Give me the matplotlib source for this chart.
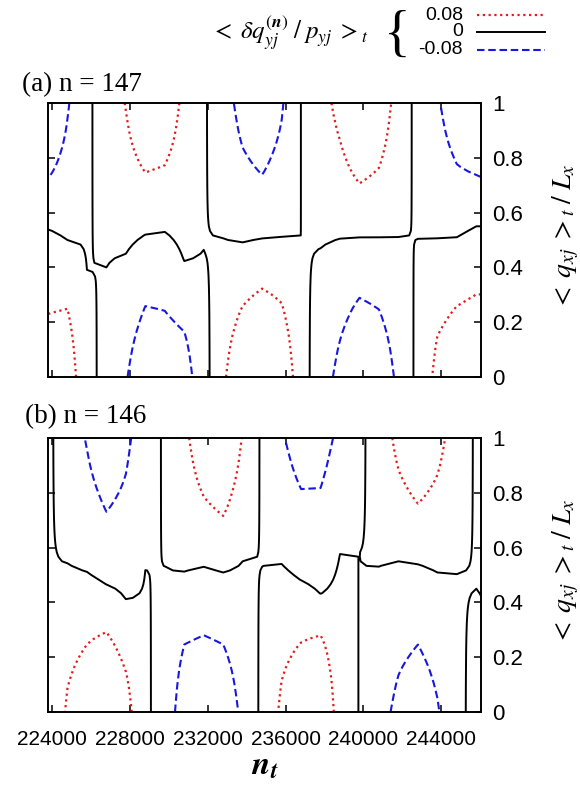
import numpy as np
import matplotlib
matplotlib.use("Agg")
import matplotlib.pyplot as plt
from matplotlib.lines import Line2D

plt.rcParams['mathtext.fontset'] = 'stix'
plt.rcParams['font.family'] = ['Liberation Sans', 'DejaVu Sans']
plt.rcParams['lines.dotted_pattern'] = [1.0, 1.6]
plt.rcParams['lines.dashed_pattern'] = [3.6, 1.8]

# ---------------- data ----------------
# grid columns along n_t
X_COLS = [223800, 224800, 225800, 226800, 227800, 228800, 229800, 230800,
          231800, 232800, 233800, 234800, 235800, 236800, 237800, 238800,
          239800, 240800, 241800, 242800, 243800, 244800, 245800, 246040]

# panel (a) n = 147 : field (x 1/100) at the upper edge, at the lower edge,
# and height of the horizontal zero line, per column
TOP_A = [-16.0, -8.7, -1.45, 3.7, 8.3, 14.0, 13.0, 6.3, 1.0, -5.0, -10.5, -14.0,
         -8.8, 0.1, 5.5, 10.0, 16.0, 13.0, 5.0, -2.35, -7.2, -12.5, -15.5, -16.0]
BOT_A = [12.0, 13.3, 1.25, -1.25, -7.5, -13.3, -12.5, -11.5, -3.0, 7.0, 14.0, 17.5,
         14.0, 3.7, -4.7, -9.9, -15.0, -13.0, -6.5, 1.94, 10.2, 13.5, 14.5, 14.5]
MID_A = [0.54, 0.50, 0.39, 0.40, 0.45, 0.52, 0.53, 0.42, 0.46, 0.505, 0.49, 0.505,
         0.51, 0.505, 0.47, 0.505, 0.51, 0.51, 0.51, 0.505, 0.505, 0.51, 0.55, 0.55]

# panel (b) n = 146
TOP_B = [1.5, -4.0, -8.5, -13.4, -9.5, -4.0, 1.0, 6.5, 12.5, 15.4, 7.6, -1.24,
         -7.4, -11.0, -10.5, -6.6, -1.8, 4.1, 9.8, 13.8, 10.0, 5.0, -1.1, -2.3]
BOT_B = [1.0, 9.0, 13.0, 17.0, 11.0, 1.0, -2.5, -13.0, -14.0, -13.0, -6.5, 1.6,
         9.4, 14.0, 18.0, 3.3, -0.2, -5.5, -9.7, -12.5, -8.6, -2.7, 3.2, 4.5]
MID_B = [0.47, 0.54, 0.51, 0.465, 0.41, 0.52, 0.53, 0.51, 0.53, 0.51, 0.55, 0.53,
         0.54, 0.48, 0.43, 0.58, 0.58, 0.53, 0.55, 0.54, 0.51, 0.505, 0.45, 0.42]

# vertical profile: fraction of edge value vs normalized distance from the zero line
S_PTS = [0.0, 0.1, 0.2, 0.3, 0.4, 0.5, 0.6, 0.7, 0.8, 0.9, 1.0]
W_PTS = [0.0, 0.14, 0.27, 0.39, 0.5, 0.6, 0.69, 0.78, 0.86, 0.93, 1.0]

LEVELS = [-0.08, 0.0, 0.08]
LEVEL_LABELS = ['-0.08', '0', '0.08']
LEVEL_COLORS = ['#1717e0', 'black', '#e41b1b']
LEVEL_STYLES = ['dashed', 'solid', 'dotted']
LEVEL_WIDTHS = [1.5, 1.4, 1.6]

PANEL_TITLES = ['(a) n = 147', '(b) n = 146']
X_TICKS = [224000, 228000, 232000, 236000, 240000, 244000]
X_TICK_LABELS = ['224000', '228000', '232000', '236000', '240000', '244000']
Y_TICKS = [0.0, 0.2, 0.4, 0.6, 0.8, 1.0]
Y_TICK_LABELS = ['0', '0.2', '0.4', '0.6', '0.8', '1']

Y_ROWS = np.linspace(0.0, 1.0, 61)


def build_field(top, bot, mid):
    top = np.asarray(top) / 100.0
    bot = np.asarray(bot) / 100.0
    mid = np.asarray(mid)
    Z = np.empty((len(Y_ROWS), len(top)))
    for i, y in enumerate(Y_ROWS):
        s_up = np.clip((y - mid) / (1 - mid), 0, 1)
        s_lo = np.clip((mid - y) / mid, 0, 1)
        Z[i] = np.where(y >= mid,
                        top * np.interp(s_up, S_PTS, W_PTS),
                        bot * np.interp(s_lo, S_PTS, W_PTS))
    return Z


fig = plt.figure(figsize=(5.8, 7.87), dpi=100)
W, H = 580.0, 787.0

panels = [
    (build_field(TOP_A, BOT_A, MID_A), [48 / W, 1 - 377 / H, 433 / W, 274 / H], (22, 85), 240),
    (build_field(TOP_B, BOT_B, MID_B), [48 / W, 1 - 712 / H, 433 / W, 274 / H], (25, 417), 575),
]

for k, (Z, rect, tpos, ycen) in enumerate(panels):
    ax = fig.add_axes(rect)
    ax.contour(X_COLS, Y_ROWS, Z, levels=LEVELS, colors=LEVEL_COLORS,
               linestyles=LEVEL_STYLES, linewidths=LEVEL_WIDTHS)
    ax.set_xlim(223800, 246040)
    ax.set_ylim(0, 1)
    ax.set_xticks(X_TICKS)
    ax.set_yticks(Y_TICKS)
    ax.set_yticklabels(Y_TICK_LABELS)
    ax.tick_params(axis='both', direction='in', top=True, bottom=True, left=True,
                   right=True, length=5, width=1.1, labelsize=15)
    ax.tick_params(axis='y', labelleft=False, labelright=True, pad=8, labelsize=16)
    if k == 0:
        ax.tick_params(axis='x', labelbottom=False)
    else:
        ax.set_xticklabels(X_TICK_LABELS)
        ax.tick_params(axis='x', pad=13)
        ax.set_xlabel(r'$\mathbfit{n}_{\mathbfit{t}}$', fontsize=24, labelpad=1)
    for sp in ax.spines.values():
        sp.set_linewidth(1.4)
    fig.text(566 / W, 1 - (ycen - 3) / H, r'$<\;q_{xj}\;>_t\;/\;L_x$', fontsize=20,
             rotation=90, ha='center', va='center')
    fig.text(tpos[0] / W, 1 - tpos[1] / H, PANEL_TITLES[k], family='Liberation Serif',
             fontsize=19.5, ha='left', va='center')

# legend block at top
fig.text(290 / W, 1 - 33 / H, r'$<\;\delta q_{yj}^{(\mathbfit{n})}\;/\;p_{yj}\;>_t$',
         fontsize=18, ha='center', va='center')
fig.text(397 / W, 1 - 37 / H, '{', family='Liberation Serif', fontsize=40,
         ha='center', va='center')
legend_y = {0.08: 15, 0.0: 32, -0.08: 50}
for lev, lab, col, ls, lw in zip(LEVELS, LEVEL_LABELS, LEVEL_COLORS, LEVEL_STYLES, LEVEL_WIDTHS):
    yy = 1 - legend_y[lev] / H
    fig.text(463 / W, yy, lab, fontsize=14, ha='right', va='center')
    fig.add_artist(Line2D([477 / W, 545 / W], [yy, yy], transform=fig.transFigure,
                          color=col, linestyle=ls, linewidth=lw))

fig.savefig('out.png', dpi=100)
